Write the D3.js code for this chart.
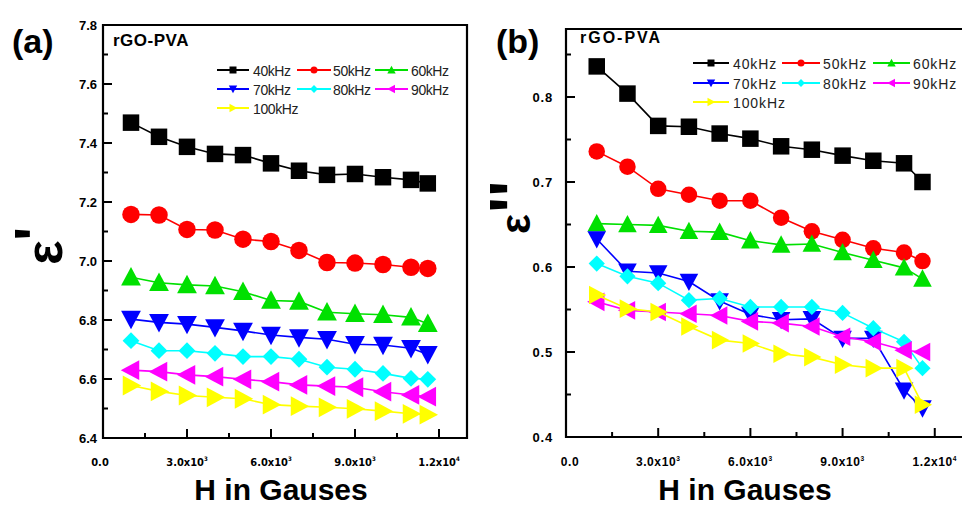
<!DOCTYPE html>
<html>
<head>
<meta charset="utf-8">
<script src="https://cdn.jsdelivr.net/npm/d3@7"></script>
<style>
  html, body { margin: 0; padding: 0; background: #fff; }
  svg { display: block; font-family: "Liberation Sans", Arial, sans-serif; }
</style>
</head>
<body>
<svg id="chart" width="962" height="507"></svg>
<script>
// ---------------- DATA ----------------
const fieldH = [1000, 2000, 3000, 4000, 5000, 6000, 7000, 8000, 9000, 10000, 11000, 11600];
const freqLabels = ["40kHz", "50kHz", "60kHz", "70kHz", "80kHz", "90kHz", "100kHz"];
const seriesColors = ["#000000", "#ff0000", "#00e000", "#0000ff", "#00ffff", "#ff00ff", "#ffff00"];
const seriesShapes = ["square", "circle", "triUp", "triDown", "diamond", "triLeft", "triRight"];

// (a) real permittivity eps'
const epsReal40  = [7.469, 7.421, 7.387, 7.363, 7.359, 7.331, 7.306, 7.292, 7.295, 7.284, 7.275, 7.263];
const epsReal50  = [7.158, 7.156, 7.107, 7.105, 7.074, 7.066, 7.036, 6.995, 6.993, 6.988, 6.979, 6.975];
const epsReal60  = [6.945, 6.926, 6.919, 6.915, 6.896, 6.866, 6.863, 6.826, 6.821, 6.818, 6.809, 6.787];
const epsReal70  = [6.803, 6.792, 6.786, 6.775, 6.763, 6.749, 6.741, 6.735, 6.718, 6.715, 6.704, 6.684];
const epsReal80  = [6.730, 6.696, 6.696, 6.687, 6.676, 6.676, 6.667, 6.640, 6.633, 6.619, 6.602, 6.599];
const epsReal90  = [6.630, 6.625, 6.614, 6.608, 6.599, 6.591, 6.580, 6.576, 6.572, 6.557, 6.546, 6.540];
const epsReal100 = [6.578, 6.558, 6.544, 6.538, 6.533, 6.513, 6.508, 6.504, 6.499, 6.491, 6.482, 6.479];

// (b) imaginary permittivity eps''
const epsImag40  = [0.836, 0.804, 0.766, 0.765, 0.757, 0.751, 0.742, 0.738, 0.731, 0.725, 0.722, 0.700];
const epsImag50  = [0.736, 0.718, 0.692, 0.685, 0.678, 0.678, 0.658, 0.642, 0.632, 0.622, 0.617, 0.607];
const epsImag60  = [0.651, 0.650, 0.649, 0.642, 0.641, 0.631, 0.626, 0.627, 0.617, 0.608, 0.599, 0.586];
const epsImag70  = [0.633, 0.595, 0.593, 0.583, 0.560, 0.544, 0.538, 0.539, 0.516, 0.516, 0.455, 0.434];
const epsImag80  = [0.604, 0.589, 0.581, 0.561, 0.563, 0.553, 0.553, 0.553, 0.546, 0.528, 0.512, 0.481];
const epsImag90  = [0.559, 0.549, 0.547, 0.545, 0.543, 0.536, 0.534, 0.530, 0.518, 0.512, 0.502, 0.500];
const epsImag100 = [0.567, 0.551, 0.547, 0.530, 0.514, 0.510, 0.498, 0.494, 0.485, 0.481, 0.481, 0.438];

const xTicksMajor = [0, 3000, 6000, 9000, 12000];
const xTickLabels = [["0.0", ""], ["3.0x10", "3"], ["6.0x10", "3"], ["9.0x10", "3"], ["1.2x10", "4"]];
const yTicksA = [6.4, 6.6, 6.8, 7.0, 7.2, 7.4, 7.6, 7.8];
const yTicksB = [0.4, 0.5, 0.6, 0.7, 0.8];

const panelTitle = "rGO-PVA";
const xTitle = "H in Gauses";

// ---------------- DRAW ----------------
const svg = d3.select("#chart");

function markerPath(shape, s) {
  const p = d3.path();
  const h = s / 2;
  if (shape === "square") {
    p.rect(-h, -h, s, s);
  } else if (shape === "circle") {
    p.arc(0, 0, h, 0, 2 * Math.PI);
  } else if (shape === "diamond") {
    const d = h * 1.12;
    p.moveTo(0, -d); p.lineTo(d, 0); p.lineTo(0, d); p.lineTo(-d, 0); p.closePath();
  } else {
    const a = s * 0.62, b = s * 0.5;
    let pts;
    if (shape === "triUp") pts = [[0, -a], [s * 0.6, b], [-s * 0.6, b]];
    if (shape === "triDown") pts = [[0, a], [s * 0.6, -b], [-s * 0.6, -b]];
    if (shape === "triLeft") pts = [[-a, 0], [b, -s * 0.6], [b, s * 0.6]];
    if (shape === "triRight") pts = [[a, 0], [-b, -s * 0.6], [-b, s * 0.6]];
    p.moveTo(pts[0][0], pts[0][1]); p.lineTo(pts[1][0], pts[1][1]); p.lineTo(pts[2][0], pts[2][1]); p.closePath();
  }
  return p.toString();
}

function drawPanel(cfg) {
  const g = svg.append("g");
  const x = d3.scaleLinear().domain([0, 13000]).range(cfg.xRange);
  const y = d3.scaleLinear().domain(cfg.yDomain).range(cfg.yRange);

  const x0 = cfg.xRange[0], x1 = cfg.xRange[1], yb = cfg.yRange[0], yt = cfg.yRange[1];
  g.append("path")
    .attr("d", `M${x0},${yb} L${x0},${yt} L${x1},${yt} L${x1},${yb} Z`)
    .attr("fill", "none").attr("stroke", "#000").attr("stroke-width", 2.2);

  const yMinor = d3.range(cfg.yDomain[0], cfg.yDomain[1] + 1e-9, cfg.yMinorStep);
  yMinor.forEach(v => {
    const isMajor = cfg.yTicks.some(t => Math.abs(t - v) < 1e-6);
    g.append("line").attr("x1", x0).attr("x2", x0 + (isMajor ? 9 : 5))
      .attr("y1", y(v)).attr("y2", y(v)).attr("stroke", "#000").attr("stroke-width", 2);
  });
  cfg.yTicks.forEach(v => {
    g.append("text").attr("x", x0 - cfg.yLabelGap).attr("y", y(v) + 4.5)
      .attr("text-anchor", "end").attr("font-weight", "bold").attr("font-size", 13)
      .attr("letter-spacing", cfg.yLabelSpacing)
      .text(d3.format(".1f")(v));
  });

  d3.range(1500, 12001, 1500).forEach(v => {
    const isMajor = v % 3000 === 0;
    g.append("line").attr("x1", x(v)).attr("x2", x(v))
      .attr("y1", yb).attr("y2", yb - (isMajor ? 9 : 5))
      .attr("stroke", "#000").attr("stroke-width", 2);
  });
  xTicksMajor.forEach((v, i) => {
    const t = g.append("text").attr("x", x(v) + (i === 0 ? cfg.zeroShift : 0)).attr("y", cfg.xLabelY)
      .attr("text-anchor", "middle").attr("font-weight", "bold")
      .attr("font-size", cfg.xLabelSize).attr("letter-spacing", cfg.xLabelSpacing)
      .style("font-family", cfg.xLabelFont);
    t.append("tspan").text(xTickLabels[i][0]);
    if (xTickLabels[i][1]) {
      t.append("tspan").attr("dy", -5).attr("font-size", cfg.xLabelSize * 0.55).text(xTickLabels[i][1]);
    }
  });

  const line = d3.line().x((d, i) => x(fieldH[i])).y(d => y(d));
  cfg.series.forEach((vals, si) => {
    g.append("path").datum(vals).attr("d", line)
      .attr("fill", "none").attr("stroke", seriesColors[si]).attr("stroke-width", 1.6);
    g.selectAll(null).data(vals).enter().append("path")
      .attr("transform", (d, i) => `translate(${x(fieldH[i])},${y(d)})`)
      .attr("d", markerPath(seriesShapes[si], cfg.markerSize[si]))
      .attr("fill", seriesColors[si]);
  });

  freqLabels.forEach((lab, i) => {
    const col = i % 3, row = Math.floor(i / 3);
    const ly = cfg.legendRows[row];
    const [lx0, lx1, tx] = cfg.legendCols[col];
    g.append("line").attr("x1", lx0).attr("x2", lx1).attr("y1", ly).attr("y2", ly)
      .attr("stroke", seriesColors[i]).attr("stroke-width", 2);
    g.append("path").attr("transform", `translate(${(lx0 + lx1) / 2},${ly})`)
      .attr("d", markerPath(seriesShapes[i], 7)).attr("fill", seriesColors[i]);
    g.append("text").attr("x", tx).attr("y", ly + 5.5)
      .attr("font-size", cfg.legendSize).attr("letter-spacing", cfg.legendSpacing)
      .attr("fill", "#222").text(lab);
  });

  g.append("text").attr("x", cfg.titlePos[0]).attr("y", cfg.titlePos[1])
    .attr("font-weight", "bold").attr("font-size", cfg.titleSize)
    .attr("letter-spacing", cfg.titleSpacing).text(panelTitle);
  g.append("text").attr("x", cfg.letterPos[0]).attr("y", cfg.letterPos[1])
    .attr("font-weight", "bold").attr("font-size", 34).text(cfg.letter);
  g.append("text").attr("x", cfg.xTitleX).attr("y", 500)
    .attr("text-anchor", "middle").attr("font-weight", "bold").attr("font-size", 30)
    .text(xTitle);

  // rotated y title: epsilon with large prime marks
  const yt2 = g.append("text")
    .attr("transform", `translate(${cfg.yTitle.origin[0]},${cfg.yTitle.origin[1]}) rotate(-90)`)
    .attr("font-weight", "bold");
  yt2.append("tspan").attr("x", 0).attr("y", 0)
    .attr("font-size", cfg.yTitle.size).text("ε");
  yt2.append("tspan").attr("x", cfg.yTitle.primeX).attr("y", cfg.yTitle.primeY)
    .attr("font-size", cfg.yTitle.primeSize).text(cfg.yTitle.primes);
}

drawPanel({
  letter: "(a)", letterPos: [12, 53],
  xRange: [103, 467], yDomain: [6.4, 7.8], yRange: [438, 25],
  yTicks: yTicksA, yMinorStep: 0.1, yLabelGap: 6, yLabelSpacing: 0,
  xLabelY: 466, xLabelSize: 11, xLabelSpacing: 0, zeroShift: -3,
  xLabelFont: "'Liberation Sans Narrow', 'Arial Narrow', 'DejaVu Sans Condensed', sans-serif",
  series: [epsReal40, epsReal50, epsReal60, epsReal70, epsReal80, epsReal90, epsReal100],
  markerSize: [16.5, 17.5, 16.5, 16.5, 15, 16.5, 16.5],
  legendRows: [70, 89, 108],
  legendCols: [[217, 249, 253], [297, 331, 333], [375, 408, 411]],
  legendSize: 14, legendSpacing: -0.4,
  titlePos: [113, 46], titleSize: 17, titleSpacing: 0.5,
  xTitleX: 281,
  yTitle: { origin: [62, 265], size: 52, primes: "'", primeX: 24, primeY: -6, primeSize: 60 }
});

drawPanel({
  letter: "(b)", letterPos: [496, 53],
  xRange: [566, 965.5], yDomain: [0.4, 0.88], yRange: [437, 29],
  yTicks: yTicksB, yMinorStep: 0.05, yLabelGap: 13, yLabelSpacing: 0.8,
  xLabelY: 466, xLabelSize: 12, xLabelSpacing: 0.6, zeroShift: 4,
  xLabelFont: "'Liberation Sans', Arial, sans-serif",
  series: [epsImag40, epsImag50, epsImag60, epsImag70, epsImag80, epsImag90, epsImag100],
  markerSize: [16.5, 16.5, 15.5, 15.5, 14.5, 15.5, 15.5],
  legendRows: [63, 83, 102],
  legendCols: [[693, 729, 733], [782, 820, 823], [873, 910, 913]],
  legendSize: 14, legendSpacing: 0.9,
  titlePos: [580, 43], titleSize: 16, titleSpacing: 2,
  xTitleX: 745,
  yTitle: { origin: [530, 234], size: 42, primes: "''", primeX: 21, primeY: 7, primeSize: 68 }
});
</script>
</body>
</html>
